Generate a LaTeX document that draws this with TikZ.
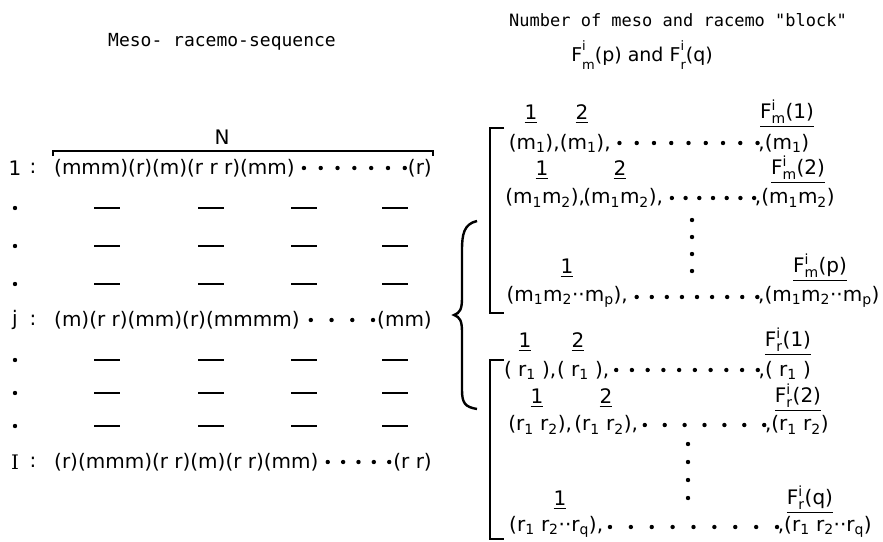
\documentclass[tikz,border=0pt]{standalone}
\usepackage{amsmath}
\usepackage{fontspec}
\setmainfont{DejaVu Sans}
\setmonofont{DejaVu Sans Mono}
\newfontfamily\serifface{DejaVu Serif}
\usetikzlibrary{calc}

\newcommand{\lowidx}[1]{$_{\text{#1}}$}
\newcommand{\Fcount}[2]{F$^{\text{i}}_{\text{#1}}$(#2)}
\newcommand{\Fhead}[2]{F\rlap{\raisebox{.58em}{\fontsize{13}{13}\selectfont i}}\raisebox{-.38em}{\fontsize{13}{13}\selectfont #1}(#2)}
% evenly spaced leader dots: from, to, gap at start, gap at end, intervals
\newcommand{\leaderdots}[5]{%
  \foreach \t in {0,...,#5}
    \fill ($([xshift=#3]#1)!\t/#5!([xshift=-#4]#2)$) circle (2.2);}

\tikzset{
  txt/.style={font=\fontsize{20}{23}\selectfont, inner sep=1pt},
  idx/.style={font=\fontsize{20}{23}\selectfont, inner sep=0pt},
  heading/.style={font=\ttfamily\fontsize{17}{20}\selectfont, inner sep=0pt},
  bar/.style={line width=1.6pt},
  bracket/.style={line width=2.8pt},
}

\begin{document}
\begin{tikzpicture}[x=1pt, y=-1pt]
    \useasboundingbox (0,0) rectangle (883,541);
    % left: the sequences
    \node[heading, font=\ttfamily\fontsize{18}{21}\selectfont] (seqtitle) at (222,42) {Meso- racemo-sequence};
    \node[txt] (len) at (222,137) {N};
    \coordinate (lenL) at (53,151);
    \coordinate (lenR) at (433,151);
    \draw[bar] ([yshift=-5pt]lenL) -- (lenL) -- (lenR) -- ([yshift=-5pt]lenR);
    \node[txt] (lab1) at (15,168) {1};
    \node[txt] (col1) at (33,168) {:};
    \node[txt, anchor=west] (seq1) at (53,168) {(mmm)(r)(m)(r r r)(mm)};
    \node[txt, anchor=east] (end1) at (433,168) {(r)};
    \leaderdots{seq1.east}{end1.west}{8pt}{2pt}{6}
    \node[txt] (labj) at (15,320) {j};
    \node[txt] (colj) at (33,320) {:};
    \node[txt, anchor=west] (seqj) at (53,320) {(m)(r r)(mm)(r)(mmmm)};
    \node[txt, anchor=east] (endj) at (433,320) {(mm)};
    \leaderdots{seqj.east}{endj.west}{10pt}{3pt}{3}
    \node[txt, font=\serifface\fontsize{20}{23}\selectfont] (labI) at (15,462) {I};
    \node[txt] (colI) at (33,462) {:};
    \node[txt, anchor=west] (seqI) at (53,462) {(r)(mmm)(r r)(m)(r r)(mm)};
    \node[txt, anchor=east] (endI) at (433,462) {(r r)};
    \leaderdots{seqI.east}{endI.west}{8pt}{3pt}{4}
    \foreach \y in {208,246,284,360,393,426} {
        \fill (15,\y) circle (2.2);
        \foreach \x in {107,211,304,395}
            \draw[bar] (\x-13,\y) -- (\x+13,\y);
    }
    % right: the blocks
    \node[heading] (cnttitle) at (678,20) {Number of meso and racemo "block"};
    \node[txt, font=\fontsize{19}{22}\selectfont] (cntsub) at (642,55) {\Fhead{m}{p} and \Fhead{r}{q}};
    \draw[bracket] (504,128) -- (490,128) -- (490,313) -- (504,313);
    \draw[bracket] (504,360) -- (490,360) -- (490,539) -- (504,539);
    \draw[bracket, line width=2.4pt] (477,221) .. controls (464,224) and (462,234) .. (462,250) -- (462,298)
        .. controls (462,309) and (460,313) .. (454,315) .. controls (460,317) and (462,321) .. (462,332)
        -- (462,390) .. controls (462,403) and (465,407) .. (477,409);
    % meso rows
    \node[txt] (ma1) at (531,143) {(m\lowidx{1})\rlap{,}};
    \node[txt] (ma2) at (582,143) {(m\lowidx{1})\rlap{,}};
    \node[txt] (ma3) at (787,143) {\llap{,}(m\lowidx{1})};
    \node[idx] (ma1i) at (531,114) {\underline{1}};
    \node[idx] (ma2i) at (582,114) {\underline{2}};
    \node[idx] (ma3i) at (787,114) {\underline{\Fcount{m}{1}}};
    \leaderdots{ma2.east}{ma3.west}{14pt}{6pt}{8}
    \node[txt] (mb1) at (542,198) {(m\lowidx{1}m\lowidx{2})\rlap{,}};
    \node[txt] (mb2) at (620,198) {(m\lowidx{1}m\lowidx{2})\rlap{,}};
    \node[txt] (mb3) at (798,198) {\llap{,}(m\lowidx{1}m\lowidx{2})};
    \node[idx] (mb1i) at (542,170) {\underline{1}};
    \node[idx] (mb2i) at (620,170) {\underline{2}};
    \node[idx] (mb3i) at (798,170) {\underline{\Fcount{m}{2}}};
    \leaderdots{mb2.east}{mb3.west}{14pt}{6pt}{6}
    \foreach \y in {220,237,254,271}
        \fill (692,\y) circle (2.2);
    \node[txt] (mc1) at (564,297) {(m\lowidx{1}m\lowidx{2}··m\lowidx{p})\rlap{,}};
    \node[txt] (mc3) at (822,297) {\llap{,}(m\lowidx{1}m\lowidx{2}··m\lowidx{p})};
    \node[idx] (mc1i) at (567,268) {\underline{1}};
    \node[idx] (mc3i) at (820,268) {\underline{\Fcount{m}{p}}};
    \leaderdots{mc1.east}{mc3.west}{14pt}{6pt}{8}
    % racemo rows
    \node[txt] (rd1) at (527,370) {( r\lowidx{1} )\rlap{,}};
    \node[txt] (rd2) at (580,370) {( r\lowidx{1} )\rlap{,}};
    \node[txt] (rd3) at (788,370) {\llap{,}( r\lowidx{1} )};
    \node[idx] (rd1i) at (525,342) {\underline{1}};
    \node[idx] (rd2i) at (578,342) {\underline{2}};
    \node[idx] (rd3i) at (788,342) {\underline{\Fcount{r}{1}}};
    \leaderdots{rd2.east}{rd3.west}{12pt}{6pt}{9}
    \node[txt] (re1) at (537,425) {(r\lowidx{1} r\lowidx{2})\rlap{,}};
    \node[txt] (re2) at (603,425) {(r\lowidx{1} r\lowidx{2})\rlap{,}};
    \node[txt] (re3) at (800,425) {\llap{,}(r\lowidx{1} r\lowidx{2})};
    \node[idx] (re1i) at (537,398) {\underline{1}};
    \node[idx] (re2i) at (606,398) {\underline{2}};
    \node[idx] (re3i) at (798,398) {\underline{\Fcount{r}{2}}};
    \leaderdots{re2.east}{re3.west}{12pt}{6pt}{6}
    \foreach \y in {444,462,480,498}
        \fill (688,\y) circle (2.2);
    \node[txt] (rf1) at (553,527) {(r\lowidx{1} r\lowidx{2}··r\lowidx{q})\rlap{,}};
    \node[txt] (rf3) at (828,527) {\llap{,}(r\lowidx{1} r\lowidx{2}··r\lowidx{q})};
    \node[idx] (rf1i) at (560,500) {\underline{1}};
    \node[idx] (rf3i) at (810,500) {\underline{\Fcount{r}{q}}};
    \leaderdots{rf1.east}{rf3.west}{12pt}{6pt}{8}
\end{tikzpicture}
\end{document}
